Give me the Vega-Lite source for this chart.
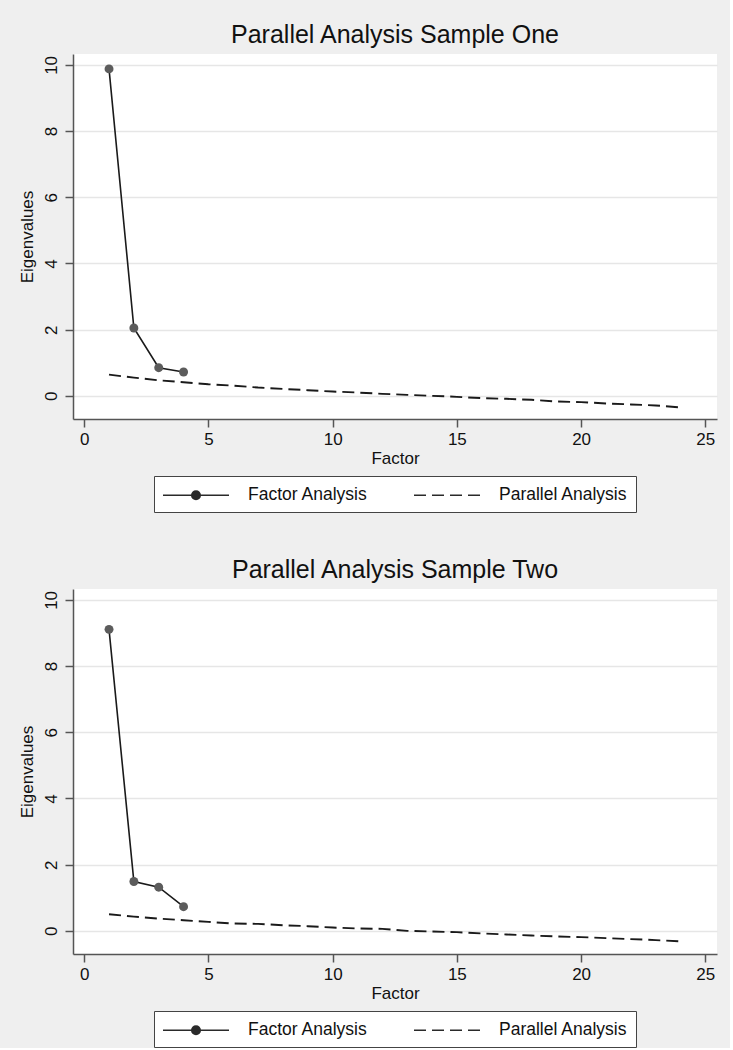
{
  "$schema": "https://vega.github.io/schema/vega-lite/v6.json",
  "background": "#efefef",
  "padding": {"left": 18, "top": 23, "right": 13, "bottom": 0},
  "config": {
    "font": "Liberation Sans",
    "view": {"fill": "white", "stroke": null},
    "axis": {
      "labelFont": "Liberation Sans", "titleFont": "Liberation Sans",
      "labelFontSize": 17, "titleFontSize": 17, "titleFontWeight": "normal",
      "labelColor": "#111111", "titleColor": "#111111",
      "domainColor": "#555555", "tickColor": "#555555", "domainWidth": 1.5, "tickWidth": 1.5,
      "tickSize": 8, "gridColor": "#e6e6e6", "gridWidth": 1.5
    },
    "title": {"font": "Liberation Sans", "fontSize": 25, "fontWeight": "normal", "color": "#111111", "offset": 6, "anchor": "middle", "frame": "group"},
    "legend": {
      "orient": "bottom", "direction": "horizontal", "title": null,
      "labelFont": "Liberation Sans", "labelFontSize": 17.5, "labelColor": "#111111",
      "strokeColor": "#444444", "fillColor": "white", "padding": 8, "offset": 10,
      "columnPadding": 42, "labelOffset": 64, "symbolSize": 400,
      "layout": {"bottom": {"anchor": "middle"}}
    }
  },
  "datasets": {
    "d": [
      {"panel": "One", "series": "Factor Analysis", "factor": 1, "eigen": 9.88},
      {"panel": "One", "series": "Factor Analysis", "factor": 2, "eigen": 2.05},
      {"panel": "One", "series": "Factor Analysis", "factor": 3, "eigen": 0.85},
      {"panel": "One", "series": "Factor Analysis", "factor": 4, "eigen": 0.72},
      {"panel": "One", "series": "Parallel Analysis", "factor": 1, "eigen": 0.64},
      {"panel": "One", "series": "Parallel Analysis", "factor": 2, "eigen": 0.55},
      {"panel": "One", "series": "Parallel Analysis", "factor": 3, "eigen": 0.47},
      {"panel": "One", "series": "Parallel Analysis", "factor": 4, "eigen": 0.41},
      {"panel": "One", "series": "Parallel Analysis", "factor": 5, "eigen": 0.35},
      {"panel": "One", "series": "Parallel Analysis", "factor": 6, "eigen": 0.31},
      {"panel": "One", "series": "Parallel Analysis", "factor": 7, "eigen": 0.25},
      {"panel": "One", "series": "Parallel Analysis", "factor": 8, "eigen": 0.21},
      {"panel": "One", "series": "Parallel Analysis", "factor": 9, "eigen": 0.17},
      {"panel": "One", "series": "Parallel Analysis", "factor": 10, "eigen": 0.13},
      {"panel": "One", "series": "Parallel Analysis", "factor": 11, "eigen": 0.10},
      {"panel": "One", "series": "Parallel Analysis", "factor": 12, "eigen": 0.06},
      {"panel": "One", "series": "Parallel Analysis", "factor": 13, "eigen": 0.03},
      {"panel": "One", "series": "Parallel Analysis", "factor": 14, "eigen": 0.00},
      {"panel": "One", "series": "Parallel Analysis", "factor": 15, "eigen": -0.03},
      {"panel": "One", "series": "Parallel Analysis", "factor": 16, "eigen": -0.07},
      {"panel": "One", "series": "Parallel Analysis", "factor": 17, "eigen": -0.09},
      {"panel": "One", "series": "Parallel Analysis", "factor": 18, "eigen": -0.12},
      {"panel": "One", "series": "Parallel Analysis", "factor": 19, "eigen": -0.17},
      {"panel": "One", "series": "Parallel Analysis", "factor": 20, "eigen": -0.19},
      {"panel": "One", "series": "Parallel Analysis", "factor": 21, "eigen": -0.23},
      {"panel": "One", "series": "Parallel Analysis", "factor": 22, "eigen": -0.26},
      {"panel": "One", "series": "Parallel Analysis", "factor": 23, "eigen": -0.29},
      {"panel": "One", "series": "Parallel Analysis", "factor": 24, "eigen": -0.35},
      {"panel": "Two", "series": "Factor Analysis", "factor": 1, "eigen": 9.11},
      {"panel": "Two", "series": "Factor Analysis", "factor": 2, "eigen": 1.49},
      {"panel": "Two", "series": "Factor Analysis", "factor": 3, "eigen": 1.32},
      {"panel": "Two", "series": "Factor Analysis", "factor": 4, "eigen": 0.73},
      {"panel": "Two", "series": "Parallel Analysis", "factor": 1, "eigen": 0.50},
      {"panel": "Two", "series": "Parallel Analysis", "factor": 2, "eigen": 0.43},
      {"panel": "Two", "series": "Parallel Analysis", "factor": 3, "eigen": 0.37},
      {"panel": "Two", "series": "Parallel Analysis", "factor": 4, "eigen": 0.32},
      {"panel": "Two", "series": "Parallel Analysis", "factor": 5, "eigen": 0.27},
      {"panel": "Two", "series": "Parallel Analysis", "factor": 6, "eigen": 0.22},
      {"panel": "Two", "series": "Parallel Analysis", "factor": 7, "eigen": 0.21},
      {"panel": "Two", "series": "Parallel Analysis", "factor": 8, "eigen": 0.17},
      {"panel": "Two", "series": "Parallel Analysis", "factor": 9, "eigen": 0.14},
      {"panel": "Two", "series": "Parallel Analysis", "factor": 10, "eigen": 0.10},
      {"panel": "Two", "series": "Parallel Analysis", "factor": 11, "eigen": 0.07},
      {"panel": "Two", "series": "Parallel Analysis", "factor": 12, "eigen": 0.06},
      {"panel": "Two", "series": "Parallel Analysis", "factor": 13, "eigen": 0.00},
      {"panel": "Two", "series": "Parallel Analysis", "factor": 14, "eigen": -0.02},
      {"panel": "Two", "series": "Parallel Analysis", "factor": 15, "eigen": -0.04},
      {"panel": "Two", "series": "Parallel Analysis", "factor": 16, "eigen": -0.08},
      {"panel": "Two", "series": "Parallel Analysis", "factor": 17, "eigen": -0.11},
      {"panel": "Two", "series": "Parallel Analysis", "factor": 18, "eigen": -0.14},
      {"panel": "Two", "series": "Parallel Analysis", "factor": 19, "eigen": -0.17},
      {"panel": "Two", "series": "Parallel Analysis", "factor": 20, "eigen": -0.19},
      {"panel": "Two", "series": "Parallel Analysis", "factor": 21, "eigen": -0.22},
      {"panel": "Two", "series": "Parallel Analysis", "factor": 22, "eigen": -0.25},
      {"panel": "Two", "series": "Parallel Analysis", "factor": 23, "eigen": -0.28},
      {"panel": "Two", "series": "Parallel Analysis", "factor": 24, "eigen": -0.32}
    ]
  },
  "spacing": 45,
  "resolve": {"scale": {"shape": "independent", "x": "independent", "y": "independent"}, "legend": {"shape": "independent"}},
  "vconcat": [
    {
      "title": "Parallel Analysis Sample One",
      "width": 644, "height": 365,
      "data": {"name": "d"},
      "transform": [{"filter": "datum.panel === 'One'"}],
      "encoding": {
        "x": {"field": "factor", "type": "quantitative", "title": "Factor",
              "scale": {"domain": [-0.45, 25.47], "nice": false, "zero": false},
              "axis": {"values": [0, 5, 10, 15, 20, 25], "grid": false, "labelPadding": 4, "titlePadding": 3}},
        "y": {"field": "eigen", "type": "quantitative", "title": "Eigenvalues",
              "scale": {"domain": [-0.7, 10.33], "nice": false, "zero": false},
              "axis": {"values": [0, 2, 4, 6, 8, 10], "grid": true, "labelAngle": 270, "labelAlign": "center", "labelBaseline": "bottom", "labelPadding": 5, "titlePadding": 6}}
      },
      "layer": [
        {"transform": [{"filter": "datum.series === 'Factor Analysis'"}],
         "mark": {"type": "line", "color": "#1a1a1a", "strokeWidth": 1.6}},
        {"transform": [{"filter": "datum.series === 'Parallel Analysis'"}],
         "mark": {"type": "line", "color": "#1a1a1a", "strokeWidth": 1.9, "strokeDash": [12, 6]}},
        {"transform": [{"filter": "datum.series === 'Factor Analysis'"}],
         "mark": {"type": "point", "filled": true, "color": "#5c5c5c", "size": 80, "opacity": 1}},
        {"mark": {"type": "point", "opacity": 0, "filled": false, "color": "#2a2a2a", "strokeWidth": 1.7},
         "encoding": {"shape": {"field": "series", "type": "nominal",
            "scale": {"domain": ["Factor Analysis", "Parallel Analysis"],
                      "range": ["M-1,0H5.6M2.72,0A0.42,0.42,0,1,1,1.88,0A0.42,0.42,0,1,1,2.72,0M2.58,0A0.28,0.28,0,1,1,2.02,0A0.28,0.28,0,1,1,2.58,0M2.44,0A0.14,0.14,0,1,1,2.16,0A0.14,0.14,0,1,1,2.44,0", "M-1,0H0.2M0.8,0H2M2.6,0H3.8M4.4,0H5.6"]},
            "legend": {"symbolOpacity": 1, "symbolStrokeColor": "#2a2a2a", "symbolStrokeWidth": 1.7}}}}
      ]
    },
    {
      "title": "Parallel Analysis Sample Two",
      "width": 644, "height": 365,
      "data": {"name": "d"},
      "transform": [{"filter": "datum.panel === 'Two'"}],
      "encoding": {
        "x": {"field": "factor", "type": "quantitative", "title": "Factor",
              "scale": {"domain": [-0.45, 25.47], "nice": false, "zero": false},
              "axis": {"values": [0, 5, 10, 15, 20, 25], "grid": false, "labelPadding": 4, "titlePadding": 3}},
        "y": {"field": "eigen", "type": "quantitative", "title": "Eigenvalues",
              "scale": {"domain": [-0.7, 10.33], "nice": false, "zero": false},
              "axis": {"values": [0, 2, 4, 6, 8, 10], "grid": true, "labelAngle": 270, "labelAlign": "center", "labelBaseline": "bottom", "labelPadding": 5, "titlePadding": 6}}
      },
      "layer": [
        {"transform": [{"filter": "datum.series === 'Factor Analysis'"}],
         "mark": {"type": "line", "color": "#1a1a1a", "strokeWidth": 1.6}},
        {"transform": [{"filter": "datum.series === 'Parallel Analysis'"}],
         "mark": {"type": "line", "color": "#1a1a1a", "strokeWidth": 1.9, "strokeDash": [12, 6]}},
        {"transform": [{"filter": "datum.series === 'Factor Analysis'"}],
         "mark": {"type": "point", "filled": true, "color": "#5c5c5c", "size": 80, "opacity": 1}},
        {"mark": {"type": "point", "opacity": 0, "filled": false, "color": "#2a2a2a", "strokeWidth": 1.7},
         "encoding": {"shape": {"field": "series", "type": "nominal",
            "scale": {"domain": ["Factor Analysis", "Parallel Analysis"],
                      "range": ["M-1,0H5.6M2.72,0A0.42,0.42,0,1,1,1.88,0A0.42,0.42,0,1,1,2.72,0M2.58,0A0.28,0.28,0,1,1,2.02,0A0.28,0.28,0,1,1,2.58,0M2.44,0A0.14,0.14,0,1,1,2.16,0A0.14,0.14,0,1,1,2.44,0", "M-1,0H0.2M0.8,0H2M2.6,0H3.8M4.4,0H5.6"]},
            "legend": {"symbolOpacity": 1, "symbolStrokeColor": "#2a2a2a", "symbolStrokeWidth": 1.7}}}}
      ]
    }
  ]
}
